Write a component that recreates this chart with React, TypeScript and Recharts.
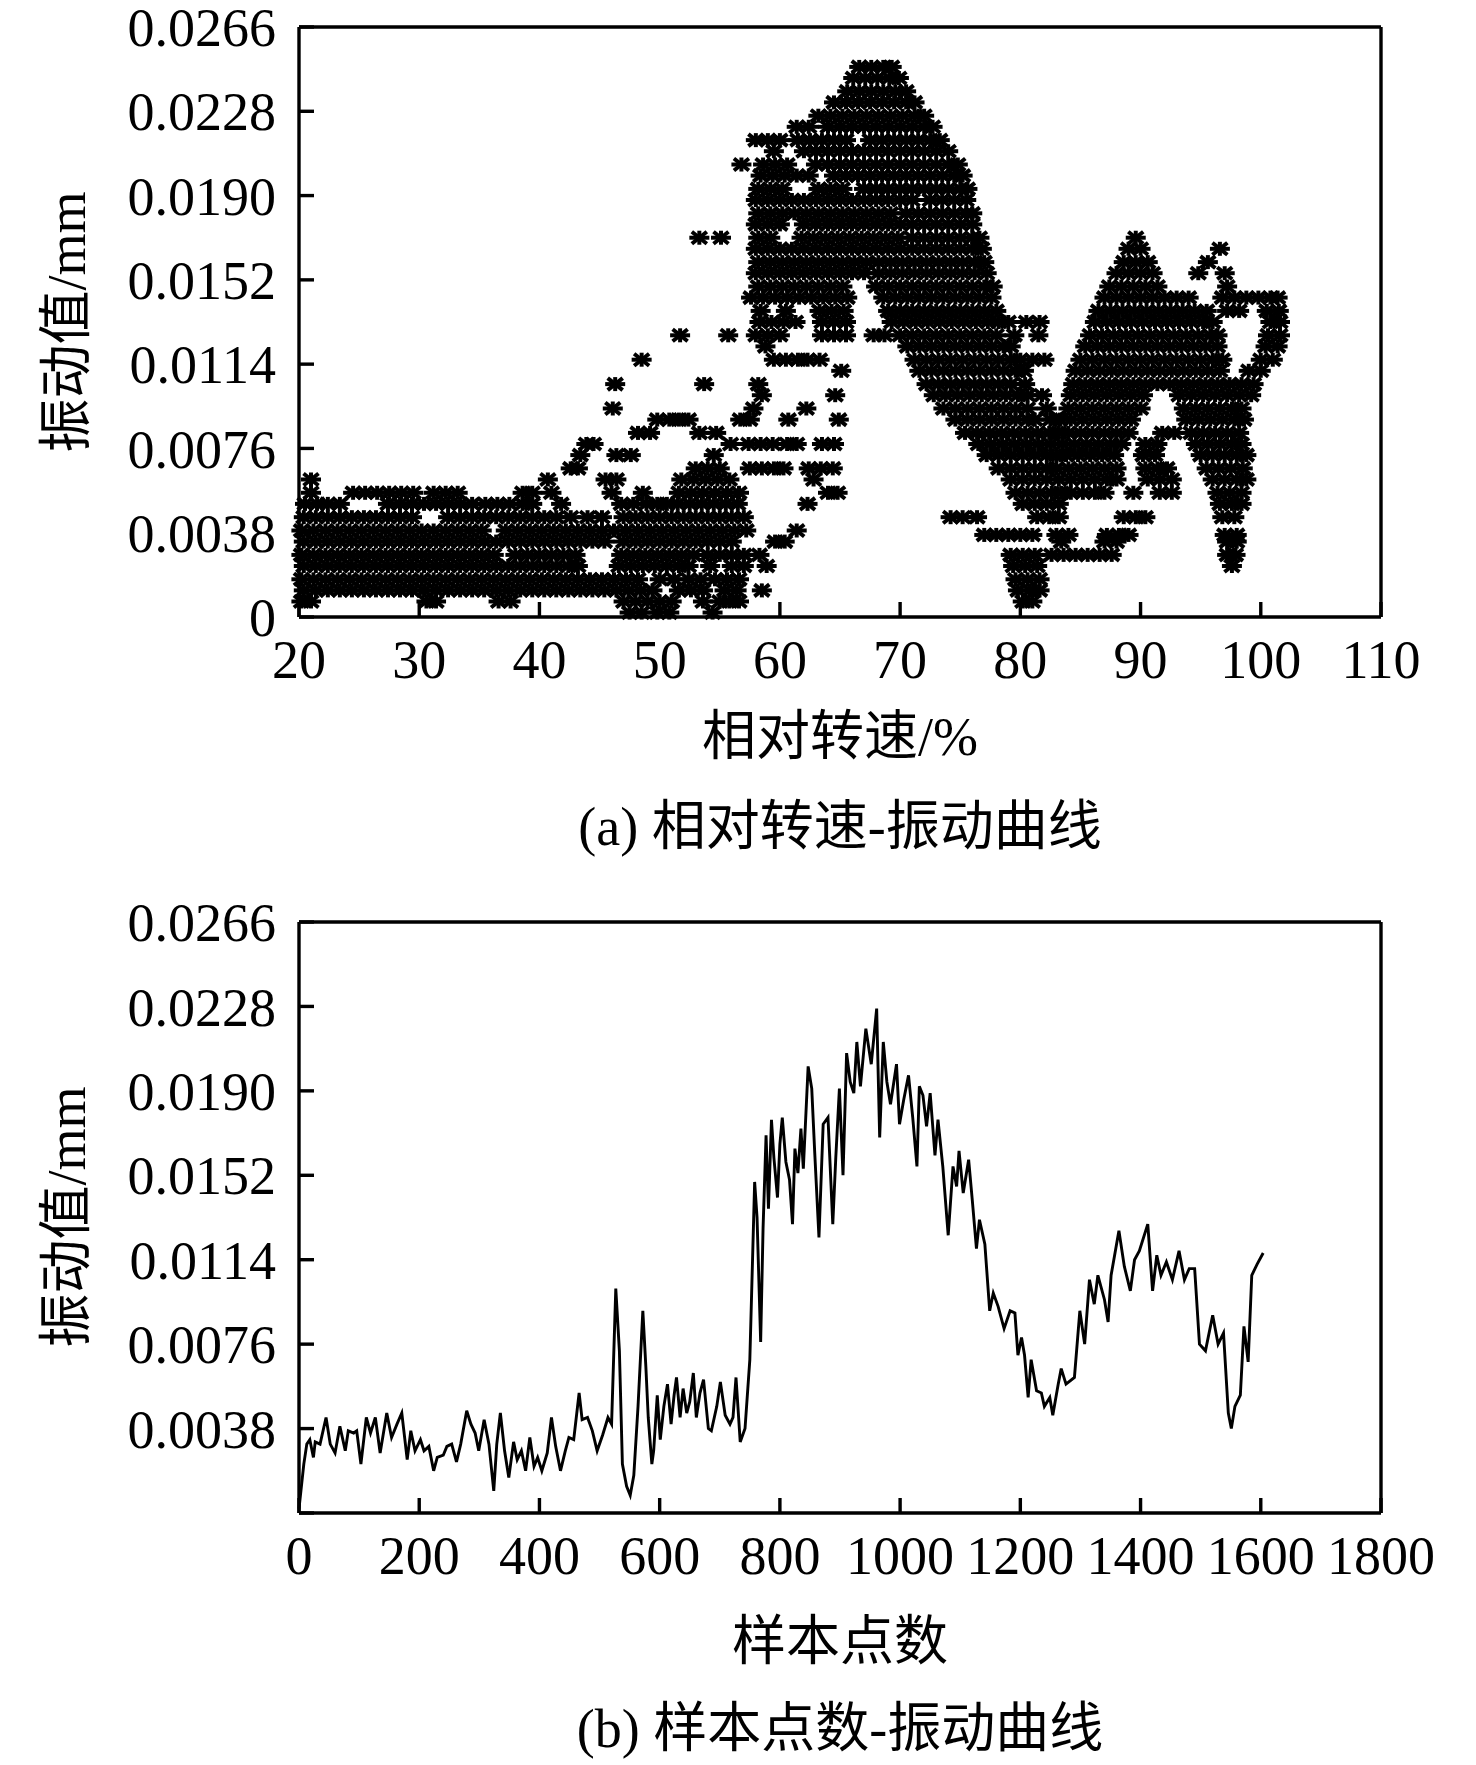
import React from 'react';
import { ScatterChart, Scatter, LineChart, Line, XAxis, YAxis } from 'recharts';

// ---- data ----

const speedTicks = [20, 30, 40, 50, 60, 70, 80, 90, 100, 110];
const sampleTicks = [0, 200, 400, 600, 800, 1000, 1200, 1400, 1600, 1800];
const vibTicks = [0, 0.0038, 0.0076, 0.0114, 0.0152, 0.019, 0.0228, 0.0266];

// (a) scatter: each row is one vibration level and the relative speeds (%) plotted at it
const scatterRows: [number, number[]][] = [
  [0.0248, [66.6, 67.6, 68.6, 69.3]],
  [0.0243, [66.1, 67.1, 68.1, 69.1, 69.9]],
  [0.0237, [65.6, 66.6, 67.6, 68.6, 69.6, 70.5]],
  [0.0232, [64.5, 65.5, 66.5, 67.5, 68.5, 69.5, 70.5, 71.2]],
  [0.0226, [63.2, 64.2, 65.2, 66.2, 67.2, 68.2, 69.2, 70.2, 71.2, 72.0]],
  [0.0221, [61.4, 62.4, 64.0, 65.0, 66.0, 67.0, 68.0, 69.0, 70.0, 71.0, 72.0, 72.7]],
  [0.0215, [58.0, 59.0, 60.0, 61.5, 62.5, 63.5, 64.5, 65.5, 67.5, 68.5, 69.5, 70.5, 71.5, 72.5, 73.3]],
  [0.021, [59.5, 62.0, 63.0, 64.0, 65.0, 66.0, 67.0, 68.0, 69.0, 70.0, 71.0, 72.0, 73.0, 74.0]],
  [0.0204, [56.8, 58.6, 59.6, 60.6, 63.0, 64.0, 65.0, 66.0, 67.0, 68.0, 69.0, 70.0, 71.0, 72.0, 73.0, 74.0, 74.8]],
  [0.0199, [58.4, 59.4, 60.4, 61.4, 62.4, 64.5, 65.5, 66.5, 67.5, 68.5, 69.5, 70.5, 71.5, 72.5, 73.5, 74.5, 75.2]],
  [0.0193, [58.2, 59.2, 60.2, 63.2, 64.2, 65.2, 67.0, 68.0, 69.0, 70.0, 71.0, 72.0, 73.0, 74.0, 75.0, 75.6]],
  [0.0188, [58.0, 59.0, 60.0, 61.0, 62.0, 63.0, 64.0, 65.0, 66.0, 67.0, 68.0, 69.0, 70.0, 71.0, 72.5, 73.5, 74.5, 75.5]],
  [0.0182, [58.2, 59.2, 60.2, 61.2, 62.2, 63.2, 64.2, 65.2, 66.2, 67.2, 68.2, 69.2, 70.5, 71.5, 72.5, 73.5, 74.5, 75.5, 76.0]],
  [0.0177, [58.0, 59.0, 60.0, 62.0, 63.0, 64.0, 65.0, 66.0, 67.0, 68.0, 69.0, 70.0, 71.0, 72.0, 73.0, 74.0, 75.0, 76.0]],
  [0.0171, [53.3, 55.1, 58.2, 59.2, 61.8, 62.8, 63.8, 64.8, 65.8, 66.8, 67.8, 68.8, 69.8, 71.0, 72.0, 73.0, 74.0, 75.0, 76.0, 76.6, 89.6]],
  [0.0166, [58.0, 59.0, 60.0, 61.0, 62.0, 63.0, 64.0, 65.0, 66.0, 67.0, 68.0, 69.0, 70.0, 71.0, 72.0, 73.0, 74.0, 75.0, 76.0, 76.8, 89.0, 90.0, 96.6]],
  [0.016, [58.2, 59.2, 60.2, 61.2, 62.2, 63.2, 64.2, 65.2, 66.2, 67.2, 68.2, 69.2, 70.2, 71.2, 72.2, 73.2, 74.2, 75.2, 76.2, 77.0, 88.6, 89.6, 90.6, 95.6]],
  [0.0155, [58.0, 59.0, 60.0, 61.0, 62.0, 63.0, 64.0, 65.0, 66.0, 67.0, 68.2, 69.2, 70.2, 71.2, 72.2, 73.2, 74.2, 75.2, 76.2, 77.2, 88.0, 89.0, 90.0, 91.0, 94.8, 97.0]],
  [0.0149, [58.2, 59.2, 60.2, 61.2, 62.2, 63.2, 64.2, 65.2, 68.0, 69.0, 70.0, 71.0, 72.0, 73.0, 74.0, 75.0, 76.0, 77.0, 77.7, 87.4, 88.4, 89.4, 90.4, 91.4, 97.2]],
  [0.0144, [57.6, 58.6, 59.6, 60.6, 61.6, 62.6, 63.6, 64.6, 65.6, 68.6, 69.6, 70.6, 71.6, 72.6, 73.6, 74.6, 75.6, 76.6, 77.6, 87.0, 88.0, 89.0, 90.0, 91.0, 92.0, 93.0, 94.0, 96.8, 97.8, 98.8, 99.8, 100.8, 101.4]],
  [0.0138, [58.4, 60.5, 63.3, 64.3, 65.3, 69.0, 70.0, 71.0, 72.0, 73.0, 74.0, 75.0, 76.0, 77.0, 78.0, 86.5, 87.5, 88.5, 89.5, 90.5, 91.5, 92.5, 93.5, 94.5, 95.5, 97.2, 98.2, 100.5, 101.5]],
  [0.0133, [58.3, 59.3, 60.3, 61.3, 63.5, 64.5, 65.5, 69.3, 70.3, 71.3, 72.3, 73.3, 74.3, 75.3, 76.3, 77.3, 78.2, 79.0, 80.5, 81.6, 86.2, 87.2, 88.2, 89.2, 90.2, 91.2, 92.2, 93.2, 94.2, 95.2, 96.0, 100.8, 101.6]],
  [0.0127, [51.7, 55.7, 58.0, 59.0, 60.0, 63.5, 64.5, 65.5, 67.8, 68.7, 70.0, 71.0, 72.0, 73.0, 74.0, 75.0, 76.0, 77.0, 78.0, 79.5, 81.5, 85.8, 86.8, 87.8, 88.8, 89.8, 90.8, 91.8, 92.8, 93.8, 94.8, 95.8, 96.4, 100.6, 101.6]],
  [0.0122, [58.8, 70.6, 71.6, 72.6, 73.6, 74.6, 75.6, 76.6, 77.6, 78.6, 79.2, 85.4, 86.4, 87.4, 88.4, 89.4, 90.4, 91.4, 92.4, 93.4, 94.4, 95.4, 96.4, 100.4, 101.4]],
  [0.0116, [48.5, 59.5, 60.5, 61.5, 62.3, 63.3, 71.2, 72.2, 73.2, 74.2, 75.2, 76.2, 77.2, 78.2, 79.2, 80.0, 81.0, 82.0, 85.0, 86.0, 87.0, 88.0, 89.0, 90.0, 91.0, 92.0, 93.0, 94.0, 95.0, 96.0, 96.8, 100.0, 101.0]],
  [0.0111, [65.1, 71.6, 72.6, 73.6, 74.6, 75.6, 76.6, 77.6, 78.6, 79.6, 80.3, 84.6, 85.6, 86.6, 87.6, 88.6, 89.6, 90.6, 91.6, 92.6, 93.6, 94.6, 95.6, 96.6, 99.0, 100.0]],
  [0.0105, [46.3, 53.7, 58.2, 72.2, 73.2, 74.2, 75.2, 76.2, 77.2, 78.2, 79.2, 80.4, 84.4, 85.4, 86.4, 87.4, 88.4, 89.4, 90.4, 91.4, 92.4, 93.4, 94.4, 95.4, 96.4, 97.4, 98.4, 99.4]],
  [0.01, [58.5, 64.6, 72.8, 73.8, 74.8, 75.8, 76.8, 77.8, 78.8, 79.8, 80.6, 81.8, 84.2, 85.2, 86.2, 87.2, 88.2, 89.2, 90.2, 93.2, 94.2, 95.2, 96.2, 97.2, 98.2, 99.2]],
  [0.0094, [46.1, 57.8, 62.2, 73.6, 74.6, 75.6, 76.6, 77.6, 78.6, 79.6, 80.6, 82.2, 84.0, 85.0, 86.0, 87.0, 88.0, 89.0, 90.0, 93.6, 94.6, 95.6, 96.6, 97.6, 98.4]],
  [0.0089, [49.8, 50.8, 51.6, 52.4, 56.7, 57.5, 60.7, 64.9, 74.6, 75.6, 76.6, 77.6, 78.6, 79.6, 80.6, 81.2, 82.5, 83.3, 84.2, 85.2, 86.2, 87.2, 88.2, 89.2, 93.8, 94.8, 95.8, 96.8, 97.8, 98.6]],
  [0.0083, [48.2, 49.2, 53.3, 54.7, 75.4, 76.4, 77.4, 78.4, 79.4, 80.4, 81.4, 82.4, 83.2, 84.0, 85.0, 86.0, 87.0, 88.0, 89.0, 91.8, 92.8, 94.2, 95.2, 96.2, 97.2, 98.2]],
  [0.0078, [43.9, 44.5, 55.9, 57.4, 58.4, 59.4, 60.6, 61.4, 63.5, 64.5, 76.5, 77.5, 78.5, 79.5, 80.5, 81.5, 82.5, 83.5, 84.5, 85.5, 86.5, 87.5, 88.4, 90.4, 91.4, 94.6, 95.6, 96.6, 97.6, 98.4]],
  [0.0073, [43.4, 46.4, 47.6, 54.5, 77.2, 78.2, 79.2, 80.2, 81.2, 82.2, 83.0, 83.8, 84.8, 85.8, 86.8, 87.8, 90.2, 91.2, 95.0, 96.0, 97.0, 98.0, 98.8]],
  [0.0067, [42.6, 43.2, 53.0, 54.0, 55.0, 57.5, 58.5, 59.5, 60.3, 62.4, 63.4, 64.4, 78.2, 79.2, 80.2, 81.2, 82.2, 83.0, 84.0, 85.0, 86.0, 87.0, 88.0, 90.4, 91.4, 92.2, 95.5, 96.5, 97.5, 98.5]],
  [0.0062, [21.0, 40.7, 45.5, 46.4, 51.8, 52.8, 53.8, 54.8, 55.8, 62.8, 79.2, 80.2, 81.2, 82.2, 83.2, 84.2, 85.2, 86.2, 87.2, 88.0, 90.6, 91.6, 92.6, 96.0, 97.0, 98.0, 98.8]],
  [0.0056, [21.0, 24.5, 25.5, 26.5, 27.5, 28.5, 29.5, 31.2, 32.2, 33.2, 38.6, 39.4, 41.0, 46.0, 48.6, 51.6, 52.6, 53.6, 54.6, 55.6, 56.6, 64.0, 64.8, 79.6, 80.6, 81.6, 82.6, 83.4, 84.2, 85.2, 86.2, 87.0, 89.4, 91.6, 92.6, 96.4, 97.4, 98.4]],
  [0.0051, [20.5, 21.5, 22.4, 23.4, 27.4, 28.4, 29.4, 30.4, 31.4, 32.4, 33.4, 34.4, 35.5, 36.5, 37.5, 38.6, 39.4, 41.8, 46.8, 47.8, 48.9, 49.8, 50.6, 51.5, 52.5, 53.5, 54.5, 55.5, 56.5, 62.3, 80.2, 81.2, 82.2, 83.2, 96.6, 97.6, 98.4]],
  [0.0045, [20.4, 21.4, 22.4, 23.4, 24.4, 25.4, 26.4, 27.4, 28.4, 29.4, 32.4, 33.4, 34.4, 35.4, 36.4, 37.4, 38.4, 39.4, 40.4, 41.4, 42.6, 44.0, 45.2, 47.0, 48.0, 49.0, 50.0, 51.0, 52.0, 53.0, 54.0, 55.0, 56.0, 57.0, 74.2, 75.2, 76.4, 81.4, 82.4, 83.2, 88.6, 89.6, 90.4, 96.8, 97.8]],
  [0.0039, [20.2, 21.2, 22.2, 23.2, 24.2, 25.2, 26.2, 27.2, 28.2, 29.2, 30.2, 31.2, 32.2, 33.2, 34.2, 35.2, 37.2, 38.2, 39.2, 40.2, 41.2, 42.2, 43.2, 44.2, 45.2, 46.2, 47.2, 48.2, 49.2, 50.2, 51.2, 52.2, 53.2, 54.2, 55.2, 56.2, 57.2, 61.4]],
  [0.0037, [77.0, 78.0, 79.0, 80.0, 81.0, 83.0, 84.0, 87.2, 88.2, 89.0, 97.0, 98.0]],
  [0.0034, [20.4, 21.4, 22.4, 23.4, 24.4, 25.4, 26.4, 27.4, 28.4, 29.4, 30.4, 31.4, 32.4, 33.4, 34.4, 35.4, 36.4, 37.4, 38.4, 39.4, 40.4, 41.4, 42.4, 43.4, 44.4, 45.4, 47.0, 48.0, 49.0, 50.0, 51.0, 52.0, 53.0, 54.0, 55.0, 56.0, 59.6, 60.4, 83.4, 87.0, 88.0, 97.2, 98.0]],
  [0.0028, [20.2, 21.2, 22.2, 23.2, 24.2, 25.2, 26.2, 27.2, 28.2, 29.2, 30.2, 31.2, 32.2, 33.2, 34.2, 35.2, 36.2, 38.0, 39.0, 40.0, 41.0, 42.0, 43.0, 46.8, 47.8, 48.8, 49.8, 50.8, 51.8, 52.8, 54.0, 55.0, 56.0, 57.0, 58.3, 79.2, 80.2, 81.2, 82.6, 83.6, 84.6, 85.6, 86.6, 87.6, 97.2, 97.9]],
  [0.0023, [20.4, 21.4, 22.4, 23.4, 24.4, 25.4, 26.4, 27.4, 28.4, 29.4, 30.4, 31.4, 32.4, 33.4, 34.4, 35.4, 36.4, 37.4, 38.4, 39.4, 40.4, 41.4, 42.4, 43.2, 46.6, 47.6, 48.6, 49.6, 50.6, 51.6, 52.4, 54.2, 56.0, 57.0, 58.9, 79.4, 80.4, 81.4, 97.6]],
  [0.0017, [20.2, 21.2, 22.2, 23.2, 24.2, 25.2, 26.2, 27.2, 28.2, 29.2, 30.2, 31.2, 32.2, 33.2, 34.2, 35.2, 36.2, 37.2, 38.2, 39.2, 40.2, 41.2, 42.2, 43.2, 44.2, 45.2, 46.2, 47.2, 48.2, 50.0, 51.2, 52.4, 53.4, 54.6, 55.6, 56.6, 79.6, 80.6, 81.6]],
  [0.0012, [20.4, 21.4, 22.4, 23.4, 24.4, 25.4, 26.4, 27.4, 28.4, 29.4, 30.4, 31.4, 32.4, 33.4, 34.4, 35.4, 36.4, 37.4, 38.4, 39.4, 40.4, 41.4, 42.4, 43.4, 44.4, 45.4, 46.4, 47.4, 48.4, 49.4, 51.6, 52.6, 53.6, 55.4, 56.4, 58.5, 79.8, 80.8, 81.6]],
  [0.0007, [20.2, 21.0, 30.6, 31.4, 36.6, 37.6, 47.0, 48.0, 49.0, 50.0, 51.0, 53.6, 55.0, 55.8, 56.6, 80.2, 81.0]],
  [0.0002, [47.5, 48.5, 49.8, 50.8, 54.4]],
];

// (b) line: sample index and vibration value (mm)
const sampleIdx = [
  0, 8, 13, 18, 24, 27, 35, 45, 52, 60, 68, 77, 82, 91, 96, 103, 112, 119, 127, 135,
  146, 154, 163, 171, 180, 186, 193, 202, 208, 216, 224, 230, 240, 246, 254, 262, 269, 279, 286, 293,
  299, 308, 316, 324, 329, 335, 342, 349, 357, 363, 370, 377, 384, 391, 397, 404, 413, 420, 427, 435,
  443, 449, 457, 466, 471, 480, 488, 496, 505, 514, 520, 527, 533, 538, 545, 551, 557, 564, 572, 577,
  581, 587, 590, 596, 601, 607, 613, 619, 624, 628, 634, 639, 645, 650, 656, 661, 667, 673, 681, 686,
  695, 701, 709, 717, 722, 727, 734, 742, 750, 758, 762, 768, 772, 777, 781, 786, 790, 796, 800, 804,
  810, 816, 821, 825, 830, 835, 839, 847, 853, 858, 865, 872, 880, 888, 893, 899, 905, 911, 917, 923,
  928, 934, 943, 952, 961, 966, 972, 978, 984, 994, 999, 1006, 1014, 1021, 1028, 1032, 1038, 1044, 1050, 1058,
  1063, 1071, 1080, 1088, 1094, 1098, 1105, 1114, 1120, 1127, 1132, 1141, 1149, 1155, 1163, 1173, 1183, 1191, 1196, 1202,
  1207, 1213, 1218, 1227, 1235, 1240, 1249, 1254, 1263, 1268, 1276, 1290, 1299, 1307, 1315, 1323, 1329, 1340, 1346, 1351,
  1364, 1373, 1383, 1390, 1398, 1412, 1420, 1427, 1434, 1443, 1453, 1464, 1473, 1481, 1490, 1498, 1508, 1520, 1529, 1538,
  1546, 1551, 1557, 1566, 1572, 1579, 1585, 1594, 1604,
];
const vibValues = [
  0.0002, 0.0022, 0.0031, 0.0033, 0.0025, 0.0032, 0.0031, 0.0043, 0.0031, 0.0027, 0.0039, 0.0028, 0.0037, 0.0036, 0.0037, 0.0022, 0.0043, 0.0036, 0.0043, 0.0027,
  0.0045, 0.0034, 0.004, 0.0045, 0.0024, 0.0037, 0.0028, 0.0033, 0.0028, 0.003, 0.0019, 0.0025, 0.0026, 0.003, 0.0031, 0.0023, 0.0031, 0.0046, 0.004, 0.0036,
  0.0028, 0.0042, 0.0031, 0.001, 0.0031, 0.0045, 0.0028, 0.0016, 0.0032, 0.0024, 0.0028, 0.0019, 0.0034, 0.0021, 0.0025, 0.0019, 0.0027, 0.0043, 0.003, 0.0019,
  0.0028, 0.0034, 0.0033, 0.0054, 0.0042, 0.0043, 0.0037, 0.0028, 0.0035, 0.0043, 0.004, 0.0101, 0.0073, 0.0022, 0.0012, 0.0008, 0.0017, 0.0048, 0.0091, 0.0066,
  0.0043, 0.0022, 0.0028, 0.0053, 0.0033, 0.0048, 0.0058, 0.004, 0.0053, 0.0061, 0.0043, 0.0056, 0.0045, 0.005, 0.0063, 0.0043, 0.0054, 0.006, 0.0038, 0.0037,
  0.0048, 0.0059, 0.0044, 0.004, 0.0043, 0.0061, 0.0032, 0.0038, 0.0069, 0.0149, 0.0133, 0.0077, 0.0128, 0.017, 0.0137, 0.0177, 0.016, 0.0142, 0.0166, 0.0178,
  0.0158, 0.015, 0.013, 0.0164, 0.0153, 0.0173, 0.0155, 0.0201, 0.0191, 0.0162, 0.0124, 0.0175, 0.0178, 0.013, 0.016, 0.0191, 0.0152, 0.0207, 0.0194, 0.0189,
  0.0212, 0.0192, 0.0218, 0.0202, 0.0227, 0.0169, 0.0212, 0.0194, 0.0184, 0.0202, 0.0175, 0.0186, 0.0197, 0.0178, 0.0156, 0.0192, 0.0188, 0.0174, 0.0189, 0.0161,
  0.0177, 0.0156, 0.0125, 0.0156, 0.0147, 0.0163, 0.0144, 0.0159, 0.0141, 0.0119, 0.0132, 0.0121, 0.0091, 0.0099, 0.0093, 0.0083, 0.0091, 0.009, 0.0071, 0.0079,
  0.0071, 0.0052, 0.0069, 0.0055, 0.0054, 0.0048, 0.0052, 0.0044, 0.0058, 0.0065, 0.0058, 0.0061, 0.0091, 0.0076, 0.0105, 0.0094, 0.0107, 0.0096, 0.0086, 0.0107,
  0.0127, 0.0111, 0.01, 0.0114, 0.0118, 0.013, 0.01, 0.0116, 0.0107, 0.0113, 0.0105, 0.0118, 0.0105, 0.011, 0.011, 0.0076, 0.0073, 0.0089, 0.0076, 0.0081,
  0.0045, 0.0038, 0.0048, 0.0053, 0.0084, 0.0068, 0.0107, 0.0112, 0.0117,
];

const scatterData = scatterRows.flatMap(([y, xs]) => xs.map((x) => ({ x, y })));
const lineData = sampleIdx.map((s, i) => ({ s, v: vibValues[i] }));

// ---- styling ----

const FONT = '"Liberation Serif", "Times New Roman", "Noto Sans CJK SC", serif';
const FS = 54;
const axisLine = { stroke: '#000', strokeWidth: 3.4 };
const tickLine = { stroke: '#000', strokeWidth: 3.4 };
const tickText = { fill: '#000', fontSize: FS, fontFamily: FONT };
const frame = { stroke: '#000', strokeWidth: 3.4, axisLine, tickLine, tickSize: -15 };

const fmtA = (v: number) => (v === 0 ? '0' : v.toFixed(4));
const fmtB = (v: number) => (v === 0 ? '' : v.toFixed(4));

function Asterisk(props: any) {
  const { cx, cy } = props;
  if (cx == null || cy == null) return <g />;
  return (
    <g stroke="#000" strokeWidth={4}>
      <line x1={cx - 10} y1={cy} x2={cx + 10} y2={cy} />
      <line x1={cx} y1={cy - 7} x2={cx} y2={cy + 7} />
      <line x1={cx - 7.5} y1={cy - 6} x2={cx + 7.5} y2={cy + 6} />
      <line x1={cx - 7.5} y1={cy + 6} x2={cx + 7.5} y2={cy - 6} />
    </g>
  );
}

function Caption({ x, y, text, rotate }: { x: number; y: number; text: string; rotate?: boolean }) {
  return (
    <div
      style={{
        position: 'absolute',
        left: x,
        top: y,
        transform: `translate(-50%, -50%)${rotate ? ' rotate(-90deg)' : ''}`,
        fontFamily: FONT,
        fontSize: FS,
        lineHeight: 1,
        whiteSpace: 'nowrap',
        color: '#000',
      }}
    >
      {text}
    </div>
  );
}

export default function App() {
  return (
    <div style={{ position: 'absolute', left: 0, top: 0, width: 1476, height: 1765, background: '#fff' }}>
      <div style={{ position: 'absolute', left: 0, top: 0 }}>
        <ScatterChart width={1476} height={700} margin={{ top: 26, right: 94, bottom: 0, left: 0 }}>
          <XAxis
            xAxisId="b"
            type="number"
            dataKey="x"
            domain={[20, 110]}
            ticks={speedTicks}
            interval={0}
            height={83}
            {...frame}
            tickMargin={38}
            tick={tickText}
          />
          <XAxis xAxisId="t" orientation="top" type="number" domain={[20, 110]} ticks={speedTicks}
            interval={0} height={1} {...frame} tick={false} />
          <YAxis
            yAxisId="l"
            type="number"
            dataKey="y"
            domain={[0, 0.0266]}
            ticks={vibTicks}
            interval={0}
            width={299}
            {...frame}
            tickMargin={38}
            tick={tickText}
            tickFormatter={fmtA}
          />
          <YAxis yAxisId="r" orientation="right" type="number" domain={[0, 0.0266]} ticks={vibTicks}
            interval={0} width={1} {...frame} tick={false} />
          <Scatter data={scatterData} xAxisId="b" yAxisId="l" shape={<Asterisk />} isAnimationActive={false} />
        </ScatterChart>
      </div>

      <div style={{ position: 'absolute', left: 0, top: 870 }}>
        <LineChart width={1476} height={726} data={lineData} margin={{ top: 51, right: 94, bottom: 0, left: 0 }}>
          <XAxis
            xAxisId="b"
            type="number"
            dataKey="s"
            domain={[0, 1800]}
            ticks={sampleTicks}
            interval={0}
            height={83}
            {...frame}
            tickMargin={38}
            tick={tickText}
          />
          <XAxis xAxisId="t" orientation="top" type="number" domain={[0, 1800]} ticks={sampleTicks}
            interval={0} height={1} {...frame} tick={false} />
          <YAxis
            yAxisId="l"
            type="number"
            domain={[0, 0.0266]}
            ticks={vibTicks}
            interval={0}
            width={299}
            {...frame}
            tickMargin={38}
            tick={tickText}
            tickFormatter={fmtB}
          />
          <YAxis yAxisId="r" orientation="right" type="number" domain={[0, 0.0266]} ticks={vibTicks}
            interval={0} width={1} {...frame} tick={false} />
          <Line
            xAxisId="b"
            yAxisId="l"
            type="linear"
            dataKey="v"
            stroke="#000"
            strokeWidth={2.9}
            dot={false}
            isAnimationActive={false}
          />
        </LineChart>
      </div>

      <Caption x={67} y={322} text="振动值/mm" rotate />
      <Caption x={840} y={737} text="相对转速/%" />
      <Caption x={840} y={827} text="(a) 相对转速-振动曲线" />

      <Caption x={67} y={1217} text="振动值/mm" rotate />
      <Caption x={840} y={1642} text="样本点数" />
      <Caption x={840} y={1729} text="(b) 样本点数-振动曲线" />
    </div>
  );
}
